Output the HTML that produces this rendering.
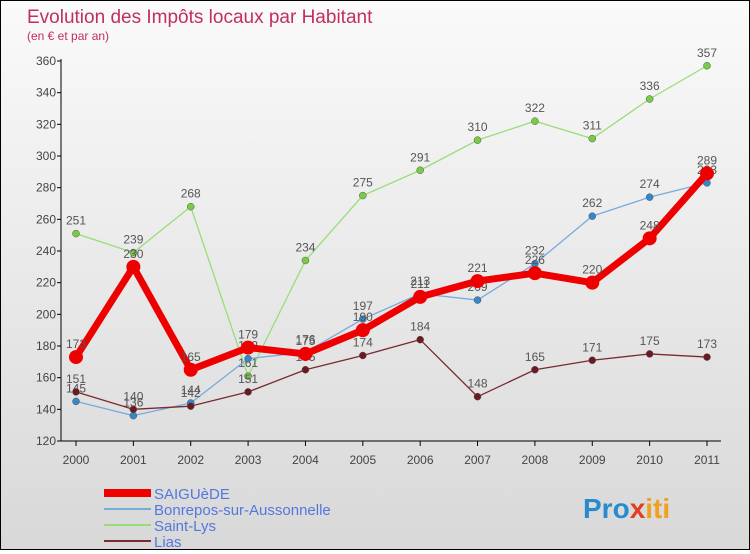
<!DOCTYPE html>
<html><head><meta charset="utf-8"><style>
body{margin:0;width:750px;height:550px;overflow:hidden;font-family:"Liberation Sans",sans-serif}
#wrap{position:relative;width:748px;height:548px;border:1px solid #000;background:linear-gradient(#fafafa,#d8d8d8)}
</style></head><body>
<div id="wrap">
<svg id="chart" width="748" height="548">
<text x="26" y="22" font-size="19" fill="#c0305a">Evolution des Impôts locaux par Habitant</text>
<text x="26" y="39" font-size="12" fill="#c0305a">(en € et par an)</text>
<g id="axes"></g><g id="series"></g><g id="legend"></g>
<text x="582" y="517" font-size="28" font-weight="bold" fill="#2a8ad0">Pro<tspan fill="#e04020">x</tspan><tspan fill="#f0a020">iti</tspan></text>
</svg></div>
<script>
const years=["2000","2001","2002","2003","2004","2005","2006","2007","2008","2009","2010","2011"];
const yTicks=[120,140,160,180,200,220,240,260,280,300,320,340,360];
const saiguede=[173,230,165,179,175,190,211,221,226,220,248,289];
const bonrepos=[145,136,144,172,176,197,213,209,232,262,274,283];
const saintLys=[251,239,268,161,234,275,291,310,322,311,336,357];
const lias=[151,140,142,151,165,174,184,148,165,171,175,173];
const NS="http://www.w3.org/2000/svg";
const X=i=>75+i*(706-75)/(years.length-1);
const Y=v=>440-(v-120)*(440-60)/240;
function mk(tag,attrs,parent,text){const e=document.createElementNS(NS,tag);for(const k in attrs)e.setAttribute(k,attrs[k]);if(text!==undefined)e.textContent=text;parent.appendChild(e);return e;}
const axes=document.getElementById('axes');
mk('line',{x1:60,y1:58,x2:60,y2:440,stroke:'#000'},axes);
mk('line',{x1:60,y1:440,x2:720,y2:440,stroke:'#000'},axes);
yTicks.forEach(t=>{
  const tl=mk('text',{x:55,y:Y(t)+4,'font-size':12,fill:'#444','text-anchor':'end'},axes,String(t));
  
  
  mk('line',{x1:56,y1:Y(t),x2:60,y2:Y(t),stroke:'#000'},axes);
});
years.forEach((y,i)=>{
  const tl=mk('text',{x:X(i),y:463,'font-size':12,fill:'#444','text-anchor':'middle'},axes,y);
  
  
  mk('line',{x1:X(i),y1:440,x2:X(i),y2:445,stroke:'#000'},axes);
});
const series=[
 {name:'saint-lys',data:saintLys,color:'#99dd77',w:1.3,r:3.5,dot:'#77cc44',label:'Saint-Lys'},
 {name:'bonrepos',data:bonrepos,color:'#77aadd',w:1.3,r:3.5,dot:'#3388cc',label:'Bonrepos-sur-Aussonnelle'},
 {name:'lias',data:lias,color:'#7a2a30',w:1.3,r:3.5,dot:'#6a1a20',label:'Lias'},
 {name:'saiguede',data:saiguede,color:'#ee0000',w:7,r:7,dot:'#ee0000',label:'SAIGUèDE'}
];
const sg=document.getElementById('series');
series.forEach(s=>{
  const g=mk('g',{},sg);
  
  
  const p=mk('polyline',{points:s.data.map((v,i)=>X(i)+','+Y(v)).join(' '),fill:'none',stroke:s.color,'stroke-width':s.w,'stroke-linejoin':'round'},g);
  
  
  s.data.forEach((v,i)=>{
    const c=mk('circle',{cx:X(i),cy:Y(v),r:s.r,fill:s.dot,stroke:s.w>2?'none':'#555','stroke-width':0.5},g);
    
    
    const t=mk('text',{x:X(i),y:Y(v)-9,'font-size':12,fill:'#555','text-anchor':'middle'},g,String(v));
    
    
  });
});
const lg=document.getElementById('legend');
const order=[series[3],series[1],series[0],series[2]];
order.forEach((s,i)=>{
  const y=492+i*16;
  const g=mk('g',{},lg);
  
  
  mk('line',{x1:103,y1:y,x2:150,y2:y,stroke:s.color,'stroke-width':s.w>2?8:2},g);
  mk('text',{x:153,y:y+6,'font-size':15,fill:'#5577dd'},g,s.label);
});
</script>
</body></html>
